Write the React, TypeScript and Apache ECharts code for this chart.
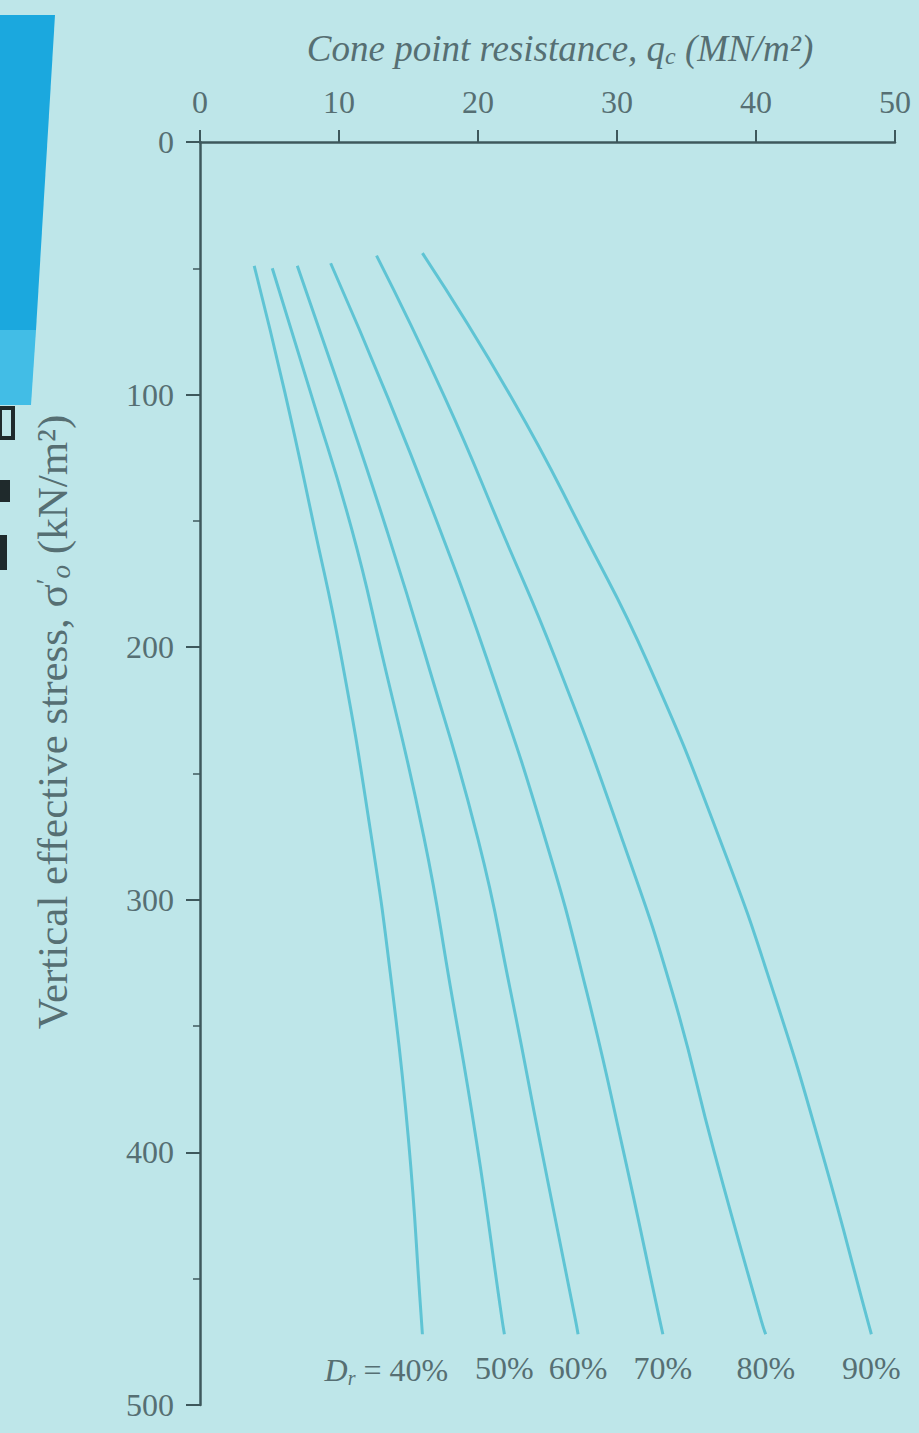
import React, { useEffect, useRef } from 'react';
import * as echarts from 'echarts';

// Relative density curves: cone point resistance q_c (MN/m²) vs vertical effective stress σ'o (kN/m²)
const densityLabels = ['40%', '50%', '60%', '70%', '80%', '90%'];

const qc40 = [3.9, 6.1, 8.2, 10.1, 12.3, 13.8, 15.0, 15.9, 16.0];
const stress40 = [49, 99, 152, 202, 274, 334, 395, 464, 472];

const qc50 = [5.2, 8.0, 10.9, 13.1, 16.1, 18.0, 19.9, 21.7, 21.9];
const stress50 = [50, 100, 153, 203, 275, 334, 396, 465, 472];

const qc60 = [7.0, 10.2, 13.4, 16.2, 20.0, 22.3, 24.5, 27.0, 27.2];
const stress60 = [49, 100, 153, 203, 276, 335, 397, 466, 472];

const qc70 = [9.4, 13.5, 17.3, 20.6, 24.9, 27.8, 30.4, 33.1, 33.3];
const stress70 = [48, 101, 154, 204, 277, 336, 398, 467, 472];

const qc80 = [12.7, 17.6, 21.8, 25.6, 30.5, 34.0, 37.0, 40.4, 40.7];
const stress80 = [45, 101, 155, 205, 278, 337, 400, 467, 472];

const qc90 = [16.0, 22.5, 27.7, 32.2, 37.6, 41.4, 44.8, 48.1, 48.3];
const stress90 = [44, 102, 156, 206, 279, 339, 401, 468, 472];

const xTitle = 'Cone point resistance, q';
const yTitle = 'Vertical effective stress, σ';

const SERIF = '"Liberation Serif", "DejaVu Serif", serif';
const TEXT = '#566f73';
const AXIS = '#3e585c';
const CURVE = '#5fc4d4';

export default function App() {
  const ref = useRef<HTMLDivElement>(null);

  useEffect(() => {
    if (!ref.current) return;
    const chart = echarts.init(ref.current, null, { renderer: 'svg' });

    const curves = [
      { label: densityLabels[0], qc: qc40, stress: stress40 },
      { label: densityLabels[1], qc: qc50, stress: stress50 },
      { label: densityLabels[2], qc: qc60, stress: stress60 },
      { label: densityLabels[3], qc: qc70, stress: stress70 },
      { label: densityLabels[4], qc: qc80, stress: stress80 },
      { label: densityLabels[5], qc: qc90, stress: stress90 },
    ];

    const labelRich = {
      n: { fontFamily: SERIF, fontSize: 32, color: TEXT },
      i: { fontFamily: SERIF, fontSize: 32, fontStyle: 'italic', color: TEXT },
      s: { fontFamily: SERIF, fontSize: 20, fontStyle: 'italic', color: TEXT, padding: [16, 0, 0, 0] },
    };

    const series = curves.map((c, idx) => ({
      type: 'line',
      name: 'Dr = ' + c.label,
      smooth: 0.5,
      showSymbol: true,
      symbol: 'circle',
      symbolSize: 0,
      lineStyle: { color: CURVE, width: 3 },
      itemStyle: { color: CURVE },
      data: c.qc.map((q, j) => {
        const item: any = { value: [q, c.stress[j]] };
        if (j === c.qc.length - 1) {
          item.label = {
            show: true,
            position: 'bottom',
            distance: 18,
            offset: idx === 0 ? [-36, 0] : [0, 0],
            formatter: idx === 0 ? '{i|D}{s|r}{n| = ' + c.label + '}' : '{n|' + c.label + '}',
            rich: labelRich,
          };
        }
        return item;
      }),
    }));

    chart.setOption({
      animation: false,
      backgroundColor: '#bee6e9',
      grid: { left: 200, right: 24, top: 142, bottom: 28 },
      xAxis: {
        type: 'value',
        position: 'top',
        min: 0,
        max: 50,
        interval: 10,
        axisLine: { show: true, lineStyle: { color: AXIS, width: 2.5 } },
        axisTick: { show: true, length: 12, lineStyle: { color: AXIS, width: 2 } },
        axisLabel: { fontFamily: SERIF, fontSize: 32, color: TEXT, margin: 24 },
        splitLine: { show: false },
      },
      yAxis: {
        type: 'value',
        inverse: true,
        min: 0,
        max: 500,
        interval: 100,
        axisLine: { show: true, lineStyle: { color: AXIS, width: 2.5 } },
        axisTick: { show: true, length: 14, lineStyle: { color: AXIS, width: 2 } },
        minorTick: { show: true, splitNumber: 2, length: 7, lineStyle: { color: AXIS, width: 1.5 } },
        axisLabel: { fontFamily: SERIF, fontSize: 32, color: TEXT, margin: 26 },
        splitLine: { show: false },
      },
      series,
      graphic: [
        {
          type: 'polygon',
          shape: { points: [[0, 15], [55, 15], [36, 330], [0, 330]] },
          style: { fill: '#1ba8de' },
          silent: true,
        },
        {
          type: 'polygon',
          shape: { points: [[0, 330], [36, 330], [31, 405], [0, 405]] },
          style: { fill: '#42bde6' },
          silent: true,
        },
        { type: 'rect', shape: { x: 0, y: 408, width: 13, height: 30 }, style: { fill: 'none', stroke: '#1f2a2c', lineWidth: 4 }, silent: true },
        { type: 'rect', shape: { x: 0, y: 480, width: 10, height: 22 }, style: { fill: '#1f2a2c' }, silent: true },
        { type: 'rect', shape: { x: 0, y: 535, width: 7, height: 35 }, style: { fill: '#1f2a2c' }, silent: true },
        {
          type: 'text',
          x: 560,
          y: 48,
          style: {
            text: '{t|' + xTitle + '}{s|c}{t| (MN/m²)}',
            align: 'center',
            verticalAlign: 'middle',
            textAlign: 'center',
            textVerticalAlign: 'middle',
            rich: {
              t: { fontFamily: SERIF, fontSize: 37, fontStyle: 'italic', fill: TEXT, color: TEXT },
              s: { fontFamily: SERIF, fontSize: 24, fontStyle: 'italic', fill: TEXT, color: TEXT, padding: [16, 0, 0, 0] },
            },
          },
          silent: true,
        },
        {
          type: 'text',
          x: 52,
          y: 722,
          rotation: Math.PI / 2,
          style: {
            text: '{t|' + yTitle + '}{p|′}{s|o}{t| (kN/m²)}',
            align: 'center',
            verticalAlign: 'middle',
            textAlign: 'center',
            textVerticalAlign: 'middle',
            rich: {
              t: { fontFamily: SERIF, fontSize: 43, fill: TEXT, color: TEXT },
              p: { fontFamily: SERIF, fontSize: 27, fill: TEXT, color: TEXT, padding: [0, 0, 12, 0] },
              s: { fontFamily: SERIF, fontSize: 27, fontStyle: 'italic', fill: TEXT, color: TEXT, padding: [18, 0, 0, 0] },
            },
          },
          silent: true,
        },
      ],
    });

    return () => chart.dispose();
  }, []);

  return (
    <div
      ref={ref}
      style={{ position: 'absolute', left: 0, top: 0, width: 919, height: 1433, background: '#bee6e9' }}
    />
  );
}
